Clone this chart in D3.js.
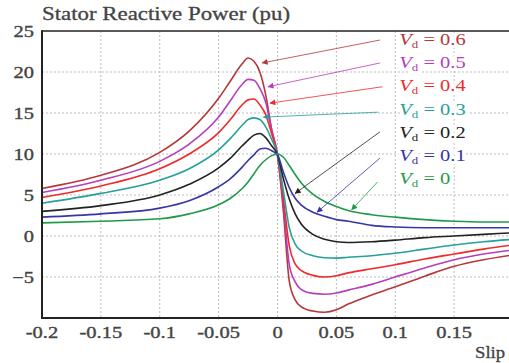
<!DOCTYPE html>
<html><head><meta charset="utf-8">
<script src="https://cdn.jsdelivr.net/npm/d3@7"></script>
<style>html,body{margin:0;padding:0;background:#fff;overflow:hidden}</style>
</head><body><svg id="c" width="509" height="363"></svg>
<script>
const slip = [-0.2,-0.15,-0.1,-0.075,-0.05,-0.04,-0.03,-0.025,-0.02,-0.015,-0.01,-0.005,0,0.005,0.01,0.015,0.02,0.03,0.04,0.05,0.06,0.08,0.1,0.125,0.15,0.175,0.2];
const q06 = [5.8,7.4,10.2,12.8,16.8,18.9,21.0,21.7,21.3,20.0,17.2,13.0,9.8,3.0,-5.5,-7.8,-8.6,-9.15,-9.3,-9.0,-8.3,-7.2,-6.2,-4.9,-3.7,-2.9,-2.3];
const q05 = [5.3,6.8,9.1,11.2,14.5,16.5,18.5,19.1,19.0,18.0,16.3,13.0,9.9,3.8,-3.5,-5.6,-6.5,-7.0,-7.1,-6.95,-6.6,-5.9,-5.0,-3.9,-2.9,-2.2,-1.7];
const q04 = [4.7,6.1,8.2,10.0,12.6,14.2,16.0,16.6,16.7,16.0,14.8,12.5,9.9,4.5,-1.2,-3.4,-4.2,-4.8,-5.0,-4.85,-4.5,-4.0,-3.5,-2.8,-2.2,-1.6,-1.1];
const q03 = [4.0,5.2,6.8,8.2,10.5,11.9,13.5,14.2,14.4,14.2,13.3,11.8,9.9,5.5,1.0,-1.0,-1.8,-2.4,-2.65,-2.7,-2.6,-2.4,-2.1,-1.6,-1.1,-0.7,-0.4];
const q02 = [3.0,3.7,5.0,6.3,8.3,9.5,11.0,11.7,12.3,12.5,12.0,11.0,9.9,7.0,4.5,2.7,1.5,0.2,-0.4,-0.7,-0.8,-0.7,-0.5,-0.2,0.0,0.2,0.4];
const q01 = [2.3,2.7,3.4,4.3,6.0,7.0,8.4,9.2,9.9,10.6,10.7,10.4,9.9,7.8,5.9,4.6,3.8,2.9,2.4,2.0,1.8,1.3,1.1,1.0,1.0,1.0,1.0];
const q00 = [1.6,1.8,2.1,2.7,3.8,4.6,5.8,6.6,7.6,8.6,9.3,9.8,10.0,9.6,8.6,7.5,6.5,5.1,4.2,3.6,3.1,2.6,2.3,2.0,1.8,1.7,1.7];
const vdLabels = ["0.6","0.5","0.4","0.3","0.2","0.1","0"];
const seriesValues = [q06,q05,q04,q03,q02,q01,q00];
const colors = ["#b5373a","#b63dbd","#ee2a2c","#25a09a","#222222","#3636a6","#1f9a4a"];
const xTicks = [-0.2,-0.15,-0.1,-0.05,0,0.05,0.1,0.15];
const xTickLabels = ["-0.2","-0.15","-0.1","-0.05","0","0.05","0.1","0.15"];
const yTicks = [-5,0,5,10,15,20,25];
const yTickLabels = ["\u22125","0","5","10","15","20","25"];
// arrow annotations (data units): [slip, Q]
const arrowFrom = [[0.087,23.9],[0.087,21.1],[0.089,18.2],[0.0855,15.1],[0.087,12.7],[0.087,9.5],[0.085,6.6]];
const arrowTo = [[-0.013,21.1],[-0.008,18.2],[-0.0064,16.2],[-0.012,14.5],[0.015,5.2],[0.0336,2.9],[0.063,3.2]];
const legendSlip = 0.1035;
const legendQ = [23.3,20.5,17.7,14.8,11.9,9.1,6.3];

const svg = d3.select("#c");
const x = d3.scaleLinear().domain([-0.2,0.2]).range([42,513]);
const y = d3.scaleLinear().domain([-10,25]).range([318,31]);
const SX = 1.28;
const font = "'Liberation Serif','Times New Roman',serif";

// grid
svg.append("g").selectAll("line").data(xTicks.filter(t=>t>-0.2)).join("line")
  .attr("x1",d=>x(d)).attr("x2",d=>x(d)).attr("y1",y(25)).attr("y2",y(-10))
  .attr("stroke","#bdbdbd").attr("stroke-width",1).attr("stroke-dasharray","2,2");
svg.append("g").selectAll("line").data(yTicks.filter(t=>t<25)).join("line")
  .attr("x1",x(-0.2)).attr("x2",509).attr("y1",d=>y(d)).attr("y2",d=>y(d))
  .attr("stroke","#bdbdbd").attr("stroke-width",1).attr("stroke-dasharray","2,2");

// curves
const line = d3.line().x((d,i)=>x(slip[i])).y(d=>y(d)).curve(d3.curveMonotoneX);
svg.append("g").selectAll("path").data(seriesValues).join("path")
  .attr("d",d=>line(d)).attr("fill","none").attr("stroke",(d,i)=>colors[i])
  .attr("stroke-width",1.6);

// legend labels with white halo
const leg = svg.append("g");
vdLabels.forEach((lab,i)=>{
  const g = leg.append("g").attr("transform",`translate(${x(legendSlip)},${y(legendQ[i])}) scale(${SX},1)`);
  const t = g.append("text").attr("font-family",font).attr("font-size",16).attr("fill",colors[i])
    .attr("stroke","#fff").attr("stroke-width",6).attr("paint-order","stroke").attr("stroke-linejoin","round");
  t.append("tspan").attr("font-style","italic").text("V");
  t.append("tspan").attr("font-size",10).attr("dy",3).text("d");
  t.append("tspan").attr("dy",-3).text(" = "+lab);
});

// arrows
const defs = svg.append("defs");
colors.forEach((c,i)=>{
  defs.append("marker").attr("id","ah"+i).attr("viewBox","0 0 10 10").attr("refX",9).attr("refY",5)
    .attr("markerWidth",7).attr("markerHeight",6).attr("markerUnits","userSpaceOnUse").attr("orient","auto")
    .append("path").attr("d","M0,0L10,5L0,10z").attr("fill",c);
});
svg.append("g").selectAll("line").data(arrowFrom).join("line")
  .attr("x1",d=>x(d[0])).attr("y1",d=>y(d[1]))
  .attr("x2",(d,i)=>x(arrowTo[i][0])).attr("y2",(d,i)=>y(arrowTo[i][1]))
  .attr("stroke",(d,i)=>colors[i]).attr("stroke-width",0.8)
  .attr("marker-end",(d,i)=>`url(#ah${i})`);

// axes frame
svg.append("line").attr("x1",x(-0.2)).attr("x2",509).attr("y1",y(25)).attr("y2",y(25)).attr("stroke","#222").attr("stroke-width",1.5);
svg.append("line").attr("x1",x(-0.2)).attr("x2",509).attr("y1",y(-10)).attr("y2",y(-10)).attr("stroke","#222").attr("stroke-width",2);
svg.append("line").attr("x1",x(-0.2)).attr("x2",x(-0.2)).attr("y1",y(25)-0.75).attr("y2",y(-10)+1).attr("stroke","#222").attr("stroke-width",2);

// tick labels
svg.selectAll(".xl").data(xTicks).join("g").attr("class","xl")
  .attr("transform",d=>`translate(${x(d)},${y(-10)+20}) scale(${SX},1)`)
  .append("text").attr("text-anchor","middle").attr("font-family",font).attr("font-size",16).attr("fill","#444")
  .attr("stroke","#444").attr("stroke-width",0.35)
  .text((d,i)=>xTickLabels[i]);
svg.selectAll(".yl").data(yTicks).join("g").attr("class","yl")
  .attr("transform",d=>`translate(34,${y(d)+5.5}) scale(${SX},1)`)
  .append("text").attr("text-anchor","end").attr("font-family",font).attr("font-size",16).attr("fill","#444")
  .attr("stroke","#444").attr("stroke-width",0.35)
  .text((d,i)=>yTickLabels[i]);

// title and axis label
svg.append("g").attr("transform",`translate(42,20) scale(1.27,1)`)
  .append("text").attr("font-family",font).attr("font-size",18).attr("fill","#444")
  .attr("stroke","#444").attr("stroke-width",0.3).text("Stator Reactive Power (pu)");
svg.append("g").attr("transform",`translate(475,358) scale(1.1,1)`)
  .append("text").attr("font-family",font).attr("font-size",17).attr("fill","#444")
  .attr("stroke","#444").attr("stroke-width",0.3).text("Slip");
</script></body></html>
